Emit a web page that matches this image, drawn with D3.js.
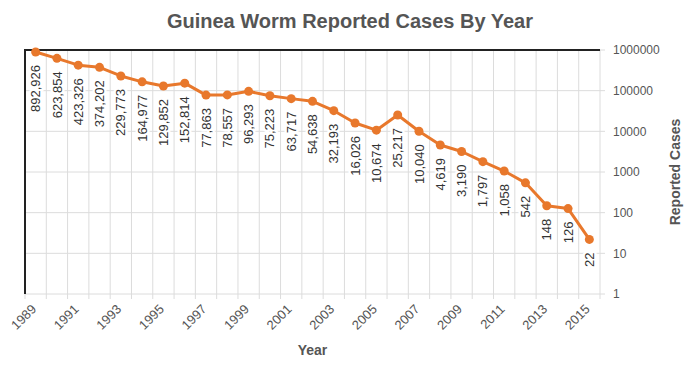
<!DOCTYPE html>
<html>
<head>
<meta charset="utf-8">
<script src="https://cdn.jsdelivr.net/npm/d3@7"></script>
<style>
  body { margin: 0; background: #fff; }
  svg text { font-family: "Liberation Sans", Arial, sans-serif; }
</style>
</head>
<body>
<div id="chart"></div>
<script>
// Guinea worm reported cases, one value per year
const years = d3.range(1989, 2016);
const cases = [892926, 623854, 423326, 374202, 229773, 164977, 129852, 152814, 77863, 78557,
               96293, 75223, 63717, 54638, 32193, 16026, 10674, 25217, 10040, 4619,
               3190, 1797, 1058, 542, 148, 126, 22];
const yTicks = [1, 10, 100, 1000, 10000, 100000, 1000000];
const xTickYears = d3.range(1989, 2016, 2);

const width = 700, height = 375;
const margin = { top: 50, right: 100, bottom: 81, left: 25 };
const innerW = width - margin.left - margin.right;
const innerH = height - margin.top - margin.bottom;

const orange = '#e8782c';

const svg = d3.select('#chart').append('svg')
  .attr('viewBox', [0, 0, width, height])
  .attr('width', width)
  .attr('height', height);

const x = d3.scaleLinear().domain([1989, 2016]).range([0, innerW]);
const y = d3.scaleLog().domain([1, 1e6]).range([innerH, 0]);

const g = svg.append('g').attr('transform', `translate(${margin.left},${margin.top})`);

// ━━━━━━━━━━━━━━━━━━━━━━━━━━━━━━━━━━━━━━━━━━━━━━━━━━━━━━━━━━━━━━━━━━━━━━━━━━━━━━
// Grid + frame /////////////////////////////////////////////////////////////////
// ━━━━━━━━━━━━━━━━━━━━━━━━━━━━━━━━━━━━━━━━━━━━━━━━━━━━━━━━━━━━━━━━━━━━━━━━━━━━━━

const grid = g.append('g').attr('stroke', '#dcdcdc').attr('stroke-width', 1);

grid.selectAll('line.v')
  .data(d3.range(1989, 2017))
  .join('line')
  .attr('class', 'v')
  .attr('x1', d => x(d)).attr('x2', d => x(d))
  .attr('y1', 0).attr('y2', innerH + 5);

grid.selectAll('line.h')
  .data(yTicks)
  .join('line')
  .attr('class', 'h')
  .attr('x1', 0).attr('x2', innerW + 5)
  .attr('y1', d => y(d)).attr('y2', d => y(d));

// dark top + left border
g.append('path')
  .attr('d', `M0,${innerH}V0H${innerW}`)
  .attr('fill', 'none')
  .attr('stroke', '#222')
  .attr('stroke-width', 2);

// ━━━━━━━━━━━━━━━━━━━━━━━━━━━━━━━━━━━━━━━━━━━━━━━━━━━━━━━━━━━━━━━━━━━━━━━━━━━━━━
// Axes labels //////////////////////////////////////////////////////////////////
// ━━━━━━━━━━━━━━━━━━━━━━━━━━━━━━━━━━━━━━━━━━━━━━━━━━━━━━━━━━━━━━━━━━━━━━━━━━━━━━

g.append('g')
  .selectAll('text')
  .data(yTicks)
  .join('text')
  .attr('x', innerW + 13)
  .attr('y', d => y(d))
  .attr('dy', '0.35em')
  .attr('font-size', 12)
  .attr('fill', '#555')
  .text(d => d);

g.append('g')
  .selectAll('text')
  .data(xTickYears)
  .join('text')
  .attr('transform', d => `translate(${x(d) + 12},${innerH + 16}) rotate(-45)`)
  .attr('text-anchor', 'end')
  .attr('font-size', 13)
  .attr('fill', '#555')
  .text(d => d);

svg.append('text')
  .attr('x', margin.left + innerW / 2)
  .attr('y', 355)
  .attr('text-anchor', 'middle')
  .attr('font-size', 14)
  .attr('font-weight', 'bold')
  .attr('fill', '#555')
  .text('Year');

svg.append('text')
  .attr('transform', `translate(680,${margin.top + innerH / 2}) rotate(-90)`)
  .attr('text-anchor', 'middle')
  .attr('font-size', 14)
  .attr('font-weight', 'bold')
  .attr('fill', '#555')
  .text('Reported Cases');

svg.append('text')
  .attr('x', 350)
  .attr('y', 28)
  .attr('text-anchor', 'middle')
  .attr('font-size', 20)
  .attr('font-weight', 'bold')
  .attr('fill', '#555')
  .text('Guinea Worm Reported Cases By Year');

// ━━━━━━━━━━━━━━━━━━━━━━━━━━━━━━━━━━━━━━━━━━━━━━━━━━━━━━━━━━━━━━━━━━━━━━━━━━━━━━
// Line + points + values ///////////////////////////////////////////////////////
// ━━━━━━━━━━━━━━━━━━━━━━━━━━━━━━━━━━━━━━━━━━━━━━━━━━━━━━━━━━━━━━━━━━━━━━━━━━━━━━

const data = years.map((yr, i) => ({ year: yr, value: cases[i] }));
const px = d => x(d.year + 0.5);

g.append('path')
  .datum(data)
  .attr('fill', 'none')
  .attr('stroke', orange)
  .attr('stroke-width', 3)
  .attr('stroke-linejoin', 'round')
  .attr('d', d3.line().x(px).y(d => y(d.value)));

g.append('g')
  .selectAll('circle')
  .data(data)
  .join('circle')
  .attr('cx', px)
  .attr('cy', d => y(d.value))
  .attr('r', 4.5)
  .attr('fill', orange);

g.append('g')
  .selectAll('text')
  .data(data)
  .join('text')
  .attr('transform', d => `translate(${px(d)},${y(d.value) + 13}) rotate(-90)`)
  .attr('text-anchor', 'end')
  .attr('dy', '0.35em')
  .attr('font-size', 13)
  .attr('fill', '#333')
  .attr('stroke', '#fff')
  .attr('stroke-width', 5)
  .attr('stroke-linejoin', 'round')
  .attr('paint-order', 'stroke')
  .text(d => d3.format(',')(d.value));
</script>
</body>
</html>
